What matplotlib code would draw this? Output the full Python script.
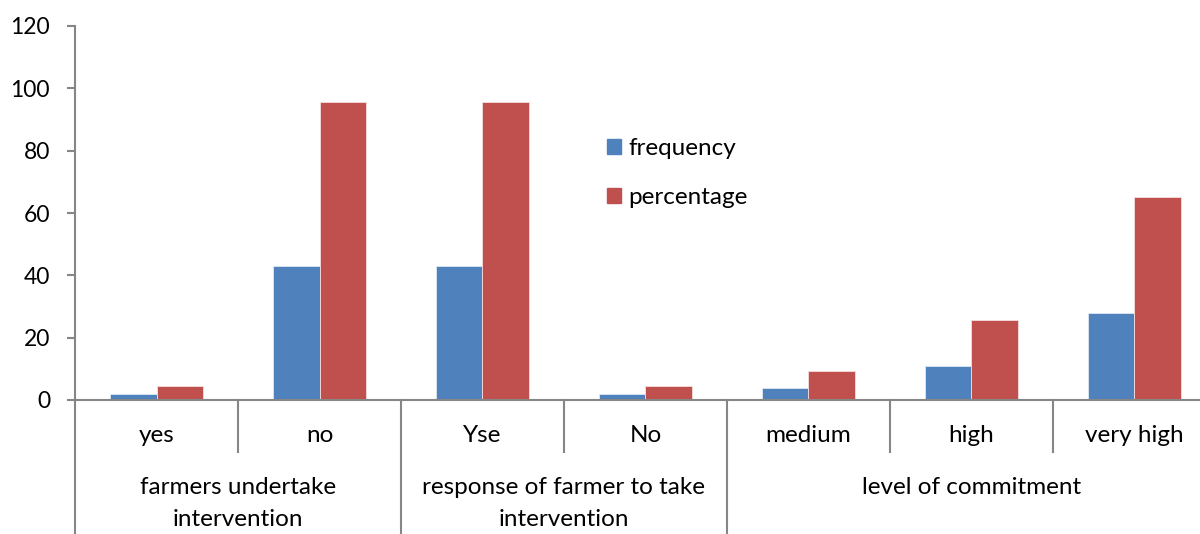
import matplotlib.pyplot as plt
import numpy as np
from matplotlib.patches import Patch

# survey responses and their share
categories = ["yes", "no", "Yse", "No", "medium", "high", "very high"]
frequency = [2, 43, 43, 2, 4, 11, 28]
percentage = [4.4, 95.6, 95.6, 4.4, 9.3, 25.6, 65.1]
groups = ["farmers undertake\nintervention", "response of farmer to take\nintervention", "level of commitment"]
group_spans = [(0, 2), (2, 4), (4, 7)]
y_ticks = [0, 20, 40, 60, 80, 100, 120]

BLUE = "#4F81BD"
RED = "#C0504D"
GRAY = "#868686"
FS = 17.5

plt.rcParams["font.family"] = ["Lato", "DejaVu Sans"]

W, H = 1200, 534
fig = plt.figure(figsize=(W / 100, H / 100), dpi=100)
# plot area runs slightly past the right edge
ax = fig.add_axes([75 / W, 134 / H, 1141 / W, 374 / H])

x = np.arange(len(categories))
bw = 0.288
ax.bar(x - bw / 2, frequency, bw, color=BLUE, edgecolor="#dfe8f3", linewidth=0.6, label="frequency")
ax.bar(x + bw / 2, percentage, bw, color=RED, edgecolor="#f3dede", linewidth=0.6, label="percentage")

ax.set_xlim(-0.5, len(categories) - 0.5)
ax.set_ylim(0, 120)
ax.set_yticks(y_ticks)
ax.set_xticks([])
ax.tick_params(axis="y", direction="out", length=6, width=1.5, color=GRAY,
               labelsize=16.5, pad=12)
for s in ["top", "right", "left"]:
    ax.spines[s].set_visible(False)
ax.spines["bottom"].set_color(GRAY)
ax.spines["bottom"].set_linewidth(1.5)

trans = ax.get_xaxis_transform()
inner = -52 / 374
outer = -134 / 374

# y axis line, carried down through the label rows
ax.plot([-0.5, -0.5], [outer, 1], transform=trans, color=GRAY, lw=1.5, clip_on=False)

# separators between categories and between groups
group_edges = {s for s, e in group_spans} | {e for s, e in group_spans}
for i in range(1, len(categories) + 1):
    bottom = outer if i in group_edges else inner
    ax.plot([i - 0.5, i - 0.5], [0, bottom], transform=trans, color=GRAY, lw=1.5, clip_on=False)

for xi, c in zip(x, categories):
    ax.text(xi, -35 / 374, c, transform=trans, ha="center", va="center", fontsize=FS)

# group labels, top-aligned, one text per line
for g, (s, e) in zip(groups, group_spans):
    for k, line in enumerate(g.split("\n")):
        ax.text((s + e - 1) / 2, -(88 + 32 * k) / 374, line, transform=trans,
                ha="center", va="center", fontsize=FS)

handles = [Patch(color=BLUE), Patch(color=RED)]
fig.legend(handles, ["frequency", "percentage"], loc="upper left",
           bbox_to_anchor=(585 / W, 1 - 116 / H), frameon=False, fontsize=FS,
           handlelength=0.6, handleheight=0.6, handletextpad=0.3, labelspacing=1.15)

fig.savefig("out.png", dpi=100)
